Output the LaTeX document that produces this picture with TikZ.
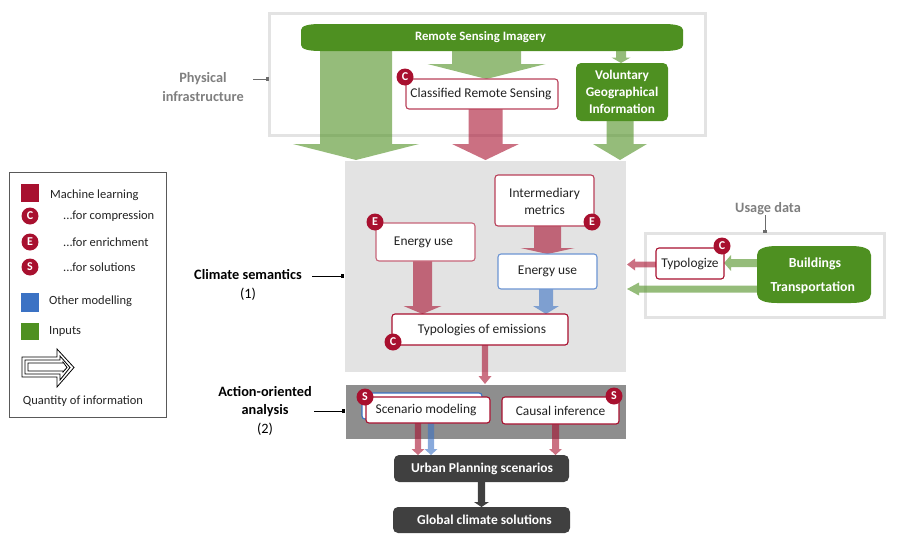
\documentclass[tikz,border=0pt]{standalone}
\usepackage{fontspec}
\setmainfont{Carlito}
\usetikzlibrary{calc,arrows.meta}
\definecolor{mlred}{HTML}{A8102F}
\definecolor{othblue}{HTML}{3B72C4}
\definecolor{inpgreen}{HTML}{4E9021}
\definecolor{darkbox}{HTML}{404040}
\definecolor{panelgray}{HTML}{E3E3E3}
\definecolor{actiongray}{HTML}{8E8E8E}
\definecolor{labgray}{HTML}{7F7F7F}
\definecolor{inktext}{HTML}{222222}
\pgfdeclarelayer{panels}
\pgfdeclarelayer{flows}
\pgfsetlayers{panels,flows,main}
\tikzset{
  base/.style={inner sep=0pt,outer sep=0pt,align=center,font=\fontsize{13.4}{17}\selectfont,text=inktext},
  whitebox/.style={base,fill=white,draw=#1,line width=1.1pt,rounded corners=3pt},
  greenbox/.style={base,fill=inpgreen,rounded corners=5pt,text=white,font=\fontsize{13.3}{17}\selectfont\bfseries},
  softgreen/.style={base,text=white,font=\fontsize{12.8}{15}\selectfont\bfseries},
  usagegreen/.style={base,text=white,font=\fontsize{13.8}{25}\selectfont\bfseries},
  darkstage/.style={base,fill=darkbox,rounded corners=5pt,text=white,font=\fontsize{13.5}{15}\selectfont\bfseries},
  framebox/.style={base,draw=panelgray,line width=3pt},
  badge/.style={circle,fill=mlred,text=white,inner sep=0pt,minimum size=17pt,font=\fontsize{12}{12}\selectfont\bfseries},
  legendtext/.style={anchor=west,inner sep=0pt,font=\fontsize{12.5}{14}\selectfont,text=inktext},
  swatch/.style={inner sep=0pt,outer sep=0pt},
  sidelabel/.style={inner sep=0pt,align=center,font=\fontsize{14.3}{18.5}\selectfont},
  leader/.style={line width=.8pt,-{Square[length=3.5pt,width=3.5pt]}},
  redflow/.style={fill=mlred,fill opacity=.6},
  greenflow/.style={fill=inpgreen,fill opacity=.6},
  blueflow/.style={fill=othblue,fill opacity=.6},
  darkflow/.style={fill=darkbox},
}
% style name x1 y1 x2 y2 text
\newcommand\bx[6]{\node[#1,minimum width={(#5-#3)*1pt},minimum height={(#6-#4)*1pt}] (#2) at ({(#3+#5)/2},{(#4+#6)/2}) {};}
\newcommand\bxt[7]{\node[#1,minimum width={(#5-#3)*1pt},minimum height={(#6-#4)*1pt}] (#2) at ({(#3+#5)/2},{(#4+#6)/2}) {#7};}
% style, from, to, half shaft, half head, head length: a block arrow running downwards
\newcommand\flowdown[6]{\path[#1] let \p1=(#2),\p2=(#3) in
  (\x1-#4,\y1)--(\x1+#4,\y1)--(\x1+#4,\y2+#6)--(\x1+#5,\y2+#6)--(\x1,\y2)--(\x1-#5,\y2+#6)--(\x1-#4,\y2+#6)--cycle;}
% the same, running leftwards
\newcommand\flowleft[6]{\path[#1] let \p1=(#2),\p2=(#3) in
  (\x1,\y1-#4)--(\x1,\y1+#4)--(\x2+#6,\y1+#4)--(\x2+#6,\y1+#5)--(\x2,\y1)--(\x2+#6,\y1-#5)--(\x2+#6,\y1-#4)--cycle;}
% soft-cornered fill behind a named node: node, rx, ry
\newcommand\softfill[3]{\fill[inpgreen] let \p1=(#1.south west),\p2=(#1.north east) in
  (\x1,\y1+#3) .. controls (\x1,\y1+.3*#3) and (\x1+.4*#2,\y1) .. (\x1+#2,\y1)
  -- (\x2-#2,\y1) .. controls (\x2-.4*#2,\y1) and (\x2,\y1+.3*#3) .. (\x2,\y1+#3)
  -- (\x2,\y2-#3) .. controls (\x2,\y2-.3*#3) and (\x2-.4*#2,\y2) .. (\x2-#2,\y2)
  -- (\x1+#2,\y2) .. controls (\x1+.4*#2,\y2) and (\x1,\y2-.3*#3) .. (\x1,\y2-#3) -- cycle;}
\newcommand\dn[2]{\raisebox{-#1pt}{#2}}
\begin{document}
\begin{tikzpicture}[x=1pt,y=-1pt]
\useasboundingbox (0,0) rectangle (899,538);
% main boxes
\bxt{softgreen}{rsi}{301}{24}{683}{51}{\hspace*{-23pt}\dn{3}{Remote Sensing Imagery}}
\bxt{whitebox=mlred!80!white}{crs}{406}{79}{558}{109}{\hspace*{-2pt}\dn{2}{Classified Remote Sensing}}
\bxt{greenbox}{vgi}{576}{63}{668}{121}{Voluntary\\Geographical\\Information}
\bxt{whitebox=mlred!65!white}{euleft}{376}{223}{475}{261}{\hspace*{-4pt}\dn{1}{Energy use}}
\bx{whitebox=mlred!80!white}{inter}{495}{175}{594}{226}
\node[base] (interl1) at (544.5,193.5) {Intermediary};
\node[base] (interl2) at (544.5,210) {metrics};
\bxt{whitebox=othblue!75!white}{euright}{498}{254}{597}{289}{\dn{2}{Energy use}}
\bxt{whitebox=mlred}{typem}{392}{314}{568}{345}{\hspace*{4pt}\dn{3}{Typologies of emissions}}
\bx{whitebox=othblue}{scenback}{362}{393}{482}{419}
\bxt{whitebox=mlred}{scen}{366}{397}{490}{423}{\hspace*{-4pt}\dn{2}{Scenario modeling}}
\bxt{whitebox=mlred}{caus}{502}{397}{619}{424}{Causal inference}
\bxt{darkstage}{urban}{394}{455}{569}{482}{\hspace*{1pt}Urban Planning scenarios}
\bxt{darkstage}{global}{393}{507}{570}{533}{\hspace*{6pt}Global climate solutions}
\bxt{whitebox=mlred}{typz}{656}{248}{724}{279}{\dn{2}{Typologize}}
\bx{usagegreen}{cyl}{757}{246}{871}{303}
\node[usagegreen] (cyl1) at (815,263.5) {Buildings};
\node[usagegreen] (cyl2) at (812.7,288) {Transportation};
\begin{pgfonlayer}{panels}
  \bx{framebox}{physframe}{269}{13}{705}{135}
  \bx{framebox}{useframe}{645}{233}{884}{317}
  \bx{base,fill=panelgray,outer sep=1pt}{climate}{345}{161}{626}{372}
  \bx{base,fill=actiongray,outer sep=1pt}{action}{346}{385}{626}{439}
\end{pgfonlayer}
\begin{pgfonlayer}{flows}
  \flowdown{greenflow}{rsi.south -| 356,0}{climate.north}{36pt}{63pt}{16pt}
  \flowdown{greenflow}{rsi.south -| 486.5,0}{crs.north}{34.5pt}{59pt}{15pt}
  \flowdown{greenflow}{rsi.south -| 621,0}{vgi.north}{5pt}{9.5pt}{5.5pt}
  \flowdown{redflow}{crs.south -| 485.5,0}{climate.north}{17pt}{33.5pt}{16pt}
  \flowdown{greenflow}{vgi.south -| 620,0}{climate.north}{13.5pt}{27pt}{16pt}
  \flowdown{redflow}{euleft.south -| 422.5,0}{typem.north}{9.5pt}{19pt}{8pt}
  \flowdown{redflow}{inter.south -| 547.5,0}{euright.north}{13.5pt}{27pt}{6pt}
  \flowdown{blueflow}{euright.south -| 546,0}{typem.north}{7pt}{13pt}{8pt}
  \flowdown{redflow}{typem.south -| 485,0}{action.north}{3.2pt}{6.5pt}{8pt}
  \flowdown{redflow}{scen.south -| 418,0}{urban.north}{3.2pt}{6.5pt}{6pt}
  \flowdown{blueflow}{scen.south -| 431,0}{urban.north}{3.2pt}{6.5pt}{6pt}
  \flowdown{redflow}{caus.south -| 555.5,0}{urban.north}{3.5pt}{6.5pt}{6pt}
  \flowdown{darkflow}{urban.south -| 481.5,0}{global.north}{3.7pt}{7.5pt}{5pt}
  \flowleft{greenflow}{cyl.west |- 0,263}{typz.east}{4pt}{8pt}{7pt}
  \flowleft{redflow}{typz.west |- 0,264.5}{climate.east}{2.8pt}{6pt}{8pt}
  \flowleft{greenflow}{cyl.west |- 0,289}{climate.east}{3.5pt}{6.5pt}{12pt}
  \softfill{rsi}{19pt}{6pt}
  \softfill{cyl}{20pt}{9pt}
\end{pgfonlayer}
% badges
\node[badge] (b1) at (405,77) {C};
\node[badge] (b2) at (375,222) {E};
\node[badge] (b3) at (592,222) {E};
\node[badge] (b4) at (393,342) {C};
\node[badge] (b5) at (365,397) {S};
\node[badge] (b6) at (614,396) {S};
\node[badge] (b7) at (722,246) {C};
% side labels
\node[sidelabel,text=labgray,font=\fontsize{14.3}{18.5}\selectfont\bfseries] (lphys) at (203,87) {Physical\\infrastructure};
\node[sidelabel,text=labgray,font=\fontsize{14.3}{15}\selectfont\bfseries] (luse) at (768,209) {Usage data};
\node[sidelabel] (lclim) at (248,285) {\textbf{Climate semantics}\\(1)};
\node[sidelabel] (lact) at (265,410.5) {\textbf{Action-oriented}\\\textbf{analysis}\\(2)};
\coordinate (lp) at (253,79);
\coordinate (lc) at (312,276);
\coordinate (la) at (314,411);
\draw[leader,draw=labgray!85!black] (lp) -- (lp -| physframe.west);
\draw[leader,draw=labgray!85!black] (luse.south -| 765,0) -- (useframe.north -| 765,0);
\draw[leader,draw=black] (lc) -- (lc -| climate.west);
\draw[leader,draw=black] (la) -- (la -| action.west);
% legend
\bx{base,draw=black!65,line width=1pt}{legend}{9}{172}{166}{417}
\bx{swatch,fill=mlred}{swml}{21}{184}{39}{202}
\bx{swatch,fill=othblue}{swoth}{21}{293}{39}{312}
\bx{swatch,fill=inpgreen}{swinp}{21}{323}{39}{340}
\node[badge] (lgc) at (30,216) {C};
\node[badge] (lge) at (30,242) {E};
\node[badge] (lgs) at (30,267) {S};
\node[legendtext] (t1) at (50,195.5) {Machine learning};
\node[legendtext] (t2) at (63,216.5) {...for compression};
\node[legendtext] (t3) at (63,242.5) {...for enrichment};
\node[legendtext] (t4) at (63,267.5) {...for solutions};
\node[legendtext] (t5) at (49,301.5) {Other modelling};
\node[legendtext] (t6) at (49,331) {Inputs};
\node[legendtext,anchor=center] (t7) at (83,401) {Quantity of information};
\draw[black,line width=.8pt] (22,357)--(57,357)--(57,349)--(74,367.5)--(57,387)--(57,377)--(22,377)--cycle;
\draw[black,line width=.8pt] (25,360)--(60,360)--(60,356)--(70,367.5)--(60,380)--(60,374)--(25,374)--cycle;
\draw[black,line width=.8pt] (28,363)--(63,363)--(63,362)--(67,367.5)--(63,372)--(63,371)--(28,371)--cycle;
\end{tikzpicture}
\end{document}
